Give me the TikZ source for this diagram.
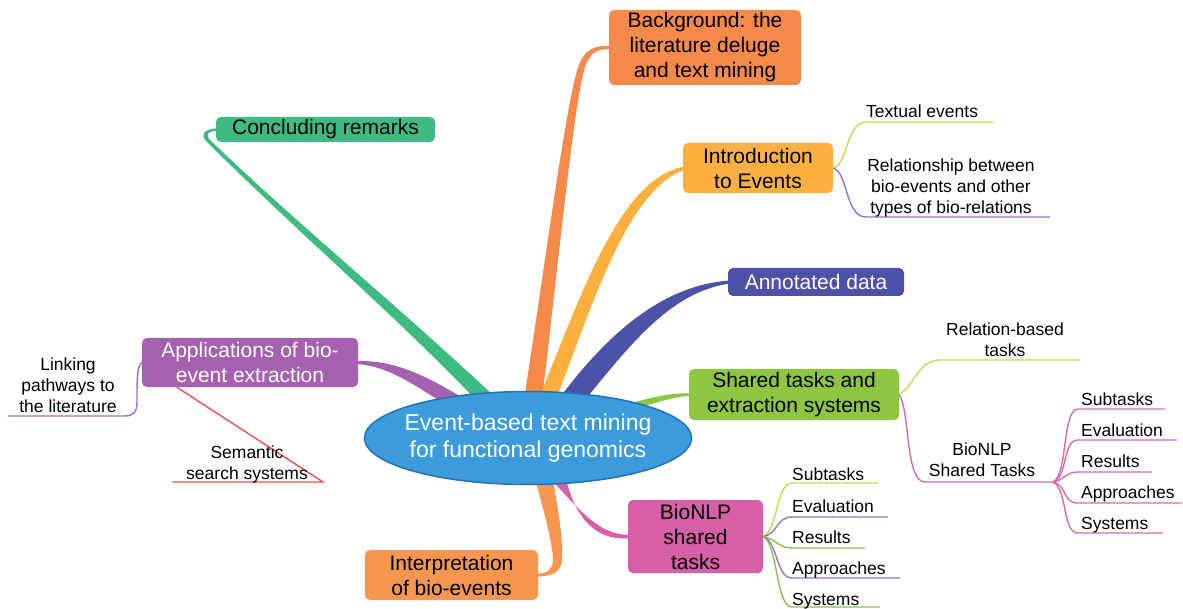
\documentclass[tikz,border=0pt]{standalone}
\usepackage{fontspec}
\setmainfont{Liberation Sans}
\usetikzlibrary{calc,backgrounds}
\definecolor{cCentral}{HTML}{3B9BDB}
\definecolor{cCentralB}{HTML}{2373B5}
\definecolor{cBg}{HTML}{F58A4B}
\definecolor{cIntro}{HTML}{FBB040}
\definecolor{cAnn}{HTML}{4E51A8}
\definecolor{cShared}{HTML}{8DC63F}
\definecolor{cBio}{HTML}{D65FA8}
\definecolor{cInterp}{HTML}{F7964F}
\definecolor{cApp}{HTML}{A560B0}
\definecolor{cConc}{HTML}{3DBB80}
\definecolor{lYG}{HTML}{C5DA55}
\definecolor{lPur}{HTML}{9C72C6}
\definecolor{lPink}{HTML}{D46CB0}
\definecolor{lRed}{HTML}{EE4F4F}
\definecolor{lGreen}{HTML}{86C24C}
\begin{document}
\begin{tikzpicture}[x=1pt,y=-1pt,
  topic/.style={rounded corners=5pt, align=center, inner sep=0pt, font=\fontsize{21}{25}\selectfont},
  subtext/.style={inner sep=0pt, align=center, font=\fontsize{17.5}{21}\selectfont},
  subline/.style={line width=1.4pt}]
\useasboundingbox (0,0) rectangle (1183,609);

% central topic
\coordinate (cc) at (528,438);
\draw[fill=cCentral, draw=cCentralB, line width=1.5pt] (cc) ellipse [x radius=163.5, y radius=46.5];
\node[inner sep=0pt, align=center, text=white, font=\fontsize{23}{27}\selectfont] (c) at (cc) {Event-based text mining\\for functional genomics};

% main topics
\node[topic, fill=cBg, minimum width=192pt, minimum height=75pt] (bg) at (705,47.5) {Background: the\\literature deluge\\and text mining};
\node[topic, fill=cIntro, minimum width=150pt, minimum height=50pt] (intro) at (758,168) {Introduction\\to Events};
\node[topic, fill=cAnn, text=white, minimum width=176pt, minimum height=28pt] (ann) at (816,282) {Annotated data};
\node[topic, fill=cShared, minimum width=210pt, minimum height=51pt] (shared) at (794,394.5) {Shared tasks and\\extraction systems};
\node[topic, fill=cBio, minimum width=135pt, minimum height=73pt] (bio) at (695.5,536.5) {BioNLP\\shared\\tasks};
\node[topic, fill=cInterp, minimum width=173pt, minimum height=50pt] (interp) at (451.5,575) {Interpretation\\of bio-events};
\node[topic, fill=cApp, text=white, minimum width=216pt, minimum height=49pt] (app) at (250,362.5) {Applications of bio-\\event extraction};
\node[topic, fill=cConc, minimum width=219pt, minimum height=25pt] (conc) at (325.5,129.5) {Concluding remarks};

% subtopic texts
\node[subtext, anchor=base west] (tev) at (866,118) {Textual events};
\node[subtext] (rel) at (951,188) {Relationship between\\bio-events and other\\types of bio-relations};
\node[subtext] (rbt) at (1005,340) {Relation-based\\tasks};
\node[subtext] (bst) at (982,460) {BioNLP\\Shared Tasks};
\node[subtext, anchor=base west] (r1) at (1081,405) {Subtasks};
\node[subtext, anchor=base west] (r2) at (1081,436) {Evaluation};
\node[subtext, anchor=base west] (r3) at (1081,467) {Results};
\node[subtext, anchor=base west] (r4) at (1081,498) {Approaches};
\node[subtext, anchor=base west] (r5) at (1081,529) {Systems};
\node[subtext, anchor=base west] (b1) at (792,480.5) {Subtasks};
\node[subtext, anchor=base west] (b2) at (792,512.5) {Evaluation};
\node[subtext, anchor=base west] (b3) at (792,543.5) {Results};
\node[subtext, anchor=base west] (b4) at (792,574.5) {Approaches};
\node[subtext, anchor=base west] (b5) at (792,605) {Systems};
\node[subtext] (link) at (68,385.5) {Linking\\pathways to\\the literature};
\node[subtext] (sem) at (247,464) {Semantic\\search systems};

% line end coordinates
\coordinate (fan) at (1053,482);

\begin{scope}[on background layer]
\fill[white] (0,0) rectangle (1183,609);
% tapered main branches
\fill[cConc] ($(cc)+(-54,-40)$) .. controls (400,320) and (290,225) .. (205,140) .. controls (201,135) and (203,129) .. ([xshift=2pt,yshift=1.2pt]conc.west) -- ([xshift=2pt,yshift=-1.2pt]conc.west) .. controls (208,131) and (206,134) .. (209,139) .. controls (295,222) and (405,312) .. ($(cc)+(-32,-40)$) -- cycle;
\fill[cApp] ([xshift=-2pt,yshift=1.5pt]app.east) .. controls (395,360) and (425,375) .. ($(cc)+(-60,-37)$) -- ($(cc)+(-73,-28)$) .. controls (420,390) and (392,366) .. ([xshift=-2pt,yshift=-1.5pt]app.east) -- cycle;
\fill[cBg] ($(cc)+(-4,-38)$) .. controls (550,230) and (568,90) .. (580,62) .. controls (588,46) and (598,46) .. ([xshift=2pt,yshift=1.6pt]bg.west) -- ([xshift=2pt,yshift=-1.6pt]bg.west) .. controls (598,49) and (592,51) .. (586,64) .. controls (575,95) and (562,230) .. ($(cc)+(14,-38)$) -- cycle;
\fill[cIntro] ($(cc)+(10,-38)$) .. controls (580,300) and (618,178) .. ([xshift=2pt,yshift=1.5pt]intro.west) -- ([xshift=2pt,yshift=-1.5pt]intro.west) .. controls (628,190) and (594,300) .. ($(cc)+(28,-38)$) -- cycle;
\fill[cAnn] ($(cc)+(30,-38)$) .. controls (610,330) and (665,285) .. ([xshift=2pt,yshift=1.5pt]ann.west) -- ([xshift=2pt,yshift=-1.5pt]ann.west) .. controls (670,292) and (630,345) .. ($(cc)+(52,-32)$) -- cycle;
\fill[cShared] ($(cc)+(85,-30)$) .. controls (650,398) and (665,393) .. ([xshift=2pt,yshift=1.2pt]shared.west) -- ([xshift=2pt,yshift=-1.2pt]shared.west) .. controls (665,398) and (650,405) .. ($(cc)+(85,-22)$) -- cycle;
\fill[cBio] ($(cc)+(18,36)$) .. controls (580,510) and (598,535) .. ([xshift=2pt,yshift=1.5pt]bio.west) -- ([xshift=2pt,yshift=-1.5pt]bio.west) .. controls (592,542) and (572,512) .. ($(cc)+(36,32)$) -- cycle;
\fill[cInterp] ($(cc)+(6,36)$) .. controls (546,520) and (556,555) .. (552,566) .. controls (549,572) and (544,573.5) .. ([xshift=-2pt,yshift=1.5pt]interp.east) -- ([xshift=-2pt,yshift=-1.5pt]interp.east) .. controls (552,577) and (561,572) .. (562,560) .. controls (563,530) and (556,500) .. ($(cc)+(24,36)$) -- cycle;

% sub branches
\draw[subline, lYG] (intro.east) .. controls (848,165) and (846,122) .. (866,122) -- (993,122);
\draw[subline, lPur] (intro.east) .. controls (848,172) and (845,217) .. (866,217) -- (1050,217);
\draw[subline, lYG] (shared.east) .. controls (915,385) and (918,360) .. (940,360) -- (1080,360);
\draw[subline, lPink] (shared.east) .. controls (910,410) and (905,482) .. (925,482) -- (fan);
\draw[subline, lPink] (fan) .. controls (1068,475) and (1062,409) .. (1078,409) -- (1165,409);
\draw[subline, lPink] (fan) .. controls (1068,478) and (1062,440) .. (1078,440) -- (1177,440);
\draw[subline, lPink] (fan) .. controls (1065,480) and (1065,472) .. (1078,472) -- (1152,472);
\draw[subline, lPink] (fan) .. controls (1068,486) and (1062,503) .. (1078,503) -- (1182,503);
\draw[subline, lPink] (fan) .. controls (1068,490) and (1062,533) .. (1078,533) -- (1163,533);
\draw[subline, lYG] (bio.east) .. controls (778,530) and (776,483) .. (792,483) -- (878,483);
\draw[subline, lPur] (bio.east) .. controls (778,534) and (776,517) .. (792,517) -- (888,517);
\draw[subline, lGreen] (bio.east) .. controls (778,540) and (778,548) .. (792,548) -- (865,548);
\draw[subline, lPur] (bio.east) .. controls (778,542) and (776,578) .. (792,578) -- (900,578);
\draw[subline, lGreen] (bio.east) .. controls (778,545) and (776,607) .. (792,607) -- (880,607);
\draw[subline, lPur] (app.west) .. controls (137,366) and (137,380) .. (137,402) .. controls (137,413) and (133,416) .. (124,416) -- (8,416);
\draw[subline, lRed] ([xshift=35pt]app.south west) -- (323,482) -- (172,482);
\end{scope}
\end{tikzpicture}
\end{document}
